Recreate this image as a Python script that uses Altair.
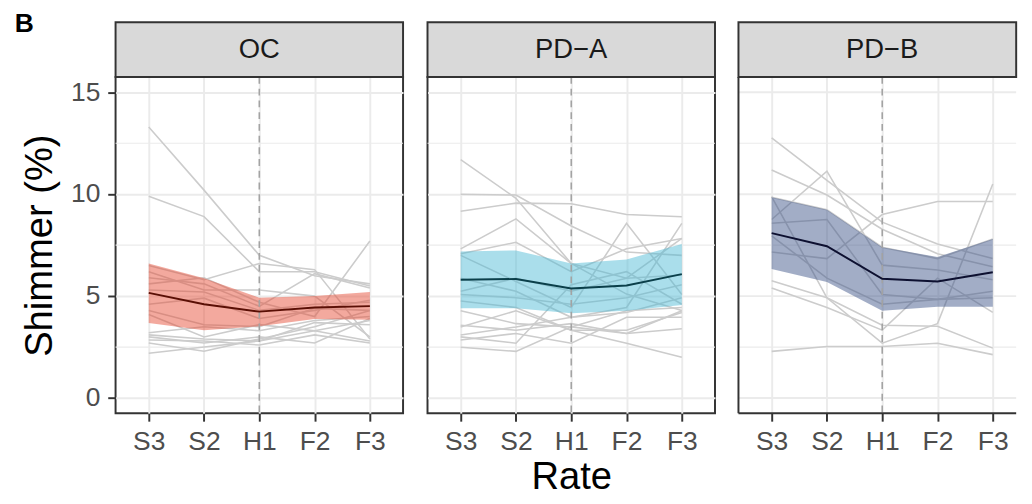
import altair as alt
import pandas as pd

FONT = "Liberation Sans"
RATES = ["S3", "S2", "H1", "F2", "F3"]
GROUPS = ["OC", "PD\u2212A", "PD\u2212B"]
FILLS = ["#E64B35", "#4DBBD5", "#3C5488"]
MEAN_COLORS = ["#5A0F05", "#0B3F4A", "#0D1030"]

OC_MEAN = [5.16, 4.60, 4.24, 4.44, 4.51]
OC_LO = [3.68, 3.33, 3.52, 3.88, 3.84]
OC_HI = [6.60, 5.88, 4.92, 5.00, 5.20]
PDA_MEAN = [5.80, 5.84, 5.37, 5.52, 6.08]
PDA_LO = [4.41, 4.41, 4.16, 4.28, 4.56]
PDA_HI = [7.19, 7.24, 6.60, 6.80, 7.56]
PDB_MEAN = [8.09, 7.45, 5.85, 5.72, 6.17]
PDB_LO = [6.33, 5.69, 4.28, 4.48, 4.48]
PDB_HI = [9.85, 9.24, 7.40, 6.92, 7.80]

OC_SUBJ = [
    [13.3, 10.2, 7.0, 6.0, 5.6],
    [9.9, 8.9, 6.2, 6.2, 5.5],
    [6.5, 5.8, 6.6, 6.3, 2.9],
    [6.2, 5.3, 5.3, 5.0, 3.0],
    [5.9, 5.6, 4.5, 6.1, 5.4],
    [5.6, 5.9, 4.7, 4.0, 7.7],
    [5.3, 5.2, 4.3, 4.6, 4.7],
    [4.6, 4.9, 3.9, 4.3, 4.8],
    [4.3, 3.6, 3.5, 4.4, 4.3],
    [4.1, 3.0, 3.6, 3.3, 3.8],
    [3.2, 3.5, 3.3, 3.8, 4.0],
    [3.1, 2.9, 2.8, 3.3, 2.8],
    [3.0, 2.7, 3.0, 2.7, 3.9],
    [2.85, 2.8, 2.6, 3.1, 2.7],
    [2.7, 2.3, 2.9, 3.5, 4.3],
    [2.2, 2.5, 2.8, 3.7, 3.6],
]
PDA_SUBJ = [
    [11.7, 9.8, 6.6, 5.1, 4.3],
    [10.0, 9.96, 8.44, 7.16, 7.0],
    [9.16, 9.56, 9.53, 9.0, 8.89],
    [7.32, 8.79, 6.6, 5.88, 7.83],
    [7.08, 7.64, 6.2, 7.32, 7.83],
    [7.0, 5.72, 4.44, 8.57, 5.08],
    [5.88, 5.24, 3.96, 4.44, 8.57],
    [5.24, 5.88, 5.24, 5.88, 6.04],
    [5.08, 4.92, 4.6, 4.92, 5.56],
    [4.76, 4.44, 3.33, 2.69, 2.0],
    [4.28, 3.65, 3.49, 4.28, 4.44],
    [3.57, 3.33, 3.65, 3.17, 4.28],
    [3.49, 4.28, 3.33, 3.33, 4.2],
    [3.09, 3.49, 3.96, 4.2, 4.92],
    [2.85, 3.17, 2.69, 3.96, 3.96],
    [2.49, 2.29, 3.49, 3.17, 3.4],
    [3.0, 2.69, 5.56, 6.2, 4.6],
]
PDB_SUBJ = [
    [12.76, 10.68, 8.63, 7.56, 6.84],
    [11.19, 9.96, 8.28, 7.08, 6.44],
    [8.76, 11.13, 6.52, 6.28, 5.8],
    [9.85, 9.24, 7.4, 6.84, 7.8],
    [8.57, 8.76, 5.08, 4.84, 5.24],
    [7.16, 6.84, 9.0, 9.64, 9.64],
    [9.88, 4.92, 2.69, 3.65, 10.5],
    [5.76, 4.92, 3.57, 3.52, 2.45],
    [5.4, 4.44, 3.33, 5.88, 4.2],
    [2.29, 2.53, 2.53, 2.69, 2.13],
    [7.96, 5.88, 4.6, 4.84, 4.92],
]

Y_TICKS = [0, 5, 10, 15]
Y_MINOR = [2.5, 7.5, 12.5]
Y_DOMAIN = [-0.75, 15.75]

W = 294          # full panel width (scale range)
W_LAST = 280     # visible width of the last (cropped) panel
H = 344
STRIP_H = 56

SUMMARIES = [
    (OC_MEAN, OC_LO, OC_HI, OC_SUBJ),
    (PDA_MEAN, PDA_LO, PDA_HI, PDA_SUBJ),
    (PDB_MEAN, PDB_LO, PDB_HI, PDB_SUBJ),
]


def make_panel(i):
    mean, lo, hi, subj = SUMMARIES[i]
    name = GROUPS[i]
    last = i == 2
    pw = W_LAST if last else W
    rows = []
    for k, vals in enumerate(subj):
        for r, v in zip(RATES, vals):
            rows.append({"subject": k, "Rate": r, "value": v})
    lines_df = pd.DataFrame(rows)
    summ_df = pd.DataFrame({"Rate": RATES, "mean": mean, "lo": lo, "hi": hi})
    minor_df = pd.DataFrame({"y": Y_MINOR})
    major_df = pd.DataFrame({"y": Y_TICKS})
    h1_df = pd.DataFrame({"Rate": ["H1"]})
    strip_df = pd.DataFrame({"g": [name]})

    xscale = alt.Scale(type="point", domain=RATES, padding=0.6, range=[0, W])
    yscale = alt.Scale(domain=Y_DOMAIN, nice=False, zero=False)

    xaxis = alt.Axis(
        title="Rate" if i == 1 else None,
        grid=True, gridColor="#EBEBEB", gridWidth=2,
        domain=False, ticks=True, tickColor="#333333", tickWidth=2, tickSize=8,
        labelFont=FONT, labelFontSize=27, labelColor="#4D4D4D", labelPadding=8,
        labelAngle=0,
        titleFont=FONT, titleFontSize=39, titleFontWeight="normal",
        titleColor="#000000", titlePadding=4,
    )
    if i == 0:
        yaxis = alt.Axis(
            title="Shimmer (%)", values=Y_TICKS,
            grid=True, gridColor="#EBEBEB", gridWidth=2,
            domain=False, tickColor="#333333", tickWidth=2, tickSize=8,
            labelFont=FONT, labelFontSize=27, labelColor="#4D4D4D", labelPadding=8,
            titleFont=FONT, titleFontSize=39, titleFontWeight="normal",
            titleColor="#000000", titlePadding=11,
        )
    else:
        yaxis = alt.Axis(
            title=None, values=Y_TICKS, labels=False, ticks=False, domain=False,
            grid=not last, gridColor="#EBEBEB", gridWidth=2,
        )

    x_enc = alt.X("Rate:N", scale=xscale, sort=RATES, axis=xaxis)
    strip_right = pw + 4 if last else pw

    if last:
        minor = alt.Chart(minor_df).mark_rule(color="#EBEBEB", strokeWidth=1.2).encode(
            y=alt.Y("y:Q", scale=yscale, axis=yaxis),
            x=alt.value(0), x2=alt.value(strip_right),
        )
        major = alt.Chart(major_df).mark_rule(color="#EBEBEB", strokeWidth=2).encode(
            y=alt.Y("y:Q", scale=yscale, axis=yaxis),
            x=alt.value(0), x2=alt.value(strip_right),
        )
        grid_layers = [minor, major]
    else:
        minor = alt.Chart(minor_df).mark_rule(color="#EBEBEB", strokeWidth=1.2).encode(
            y=alt.Y("y:Q", scale=yscale, axis=yaxis)
        )
        grid_layers = [minor]

    gray = alt.Chart(lines_df).mark_line(color="#CCCCCC", strokeWidth=1.6).encode(
        x=x_enc,
        y=alt.Y("value:Q", scale=yscale, axis=yaxis),
        detail="subject:N",
    )
    ribbon = alt.Chart(summ_df).mark_area(color=FILLS[i], opacity=0.48).encode(
        x=x_enc,
        y=alt.Y("lo:Q", scale=yscale, axis=yaxis),
        y2="hi:Q",
    )
    vline = alt.Chart(h1_df).mark_rule(
        color="#A3A3A3", strokeDash=[7, 5], strokeWidth=1.6
    ).encode(x=x_enc)
    mline = alt.Chart(summ_df).mark_line(color=MEAN_COLORS[i], strokeWidth=2).encode(
        x=x_enc,
        y=alt.Y("mean:Q", scale=yscale, axis=yaxis),
    )
    strip = alt.Chart(strip_df).mark_rect(
        fill="#D9D9D9", stroke="#333333", strokeWidth=2
    ).encode(
        x=alt.value(0), x2=alt.value(strip_right),
        y=alt.value(-STRIP_H), y2=alt.value(0),
    )
    strip_text = alt.Chart(strip_df).mark_text(
        font=FONT, fontSize=28, color="#1A1A1A", baseline="middle", align="center"
    ).encode(
        x=alt.value(W / 2), y=alt.value(-STRIP_H / 2 + 1), text="g:N"
    )
    layers = grid_layers + [gray, ribbon, vline, mline, strip, strip_text]
    if last:
        left_border = alt.Chart(strip_df).mark_rule(
            color="#333333", strokeWidth=2
        ).encode(x=alt.value(0), y=alt.value(0), y2=alt.value(H))
        bottom_border = alt.Chart(strip_df).mark_rule(
            color="#333333", strokeWidth=2
        ).encode(x=alt.value(0), x2=alt.value(strip_right), y=alt.value(H))
        layers += [left_border, bottom_border]
        return alt.layer(*layers).properties(
            width=pw, height=H, view=alt.ViewBackground(strokeOpacity=0)
        )
    return alt.layer(*layers).properties(width=pw, height=H)


chart = alt.hconcat(
    make_panel(0), make_panel(1), make_panel(2), spacing=21
).properties(
    title=alt.TitleParams(
        "B", anchor="start", font=FONT, fontSize=27, fontWeight="bold",
        color="#000000", offset=-18, dx=-6, baseline="top",
    ),
    padding={"left": 6, "top": -3, "right": -2, "bottom": -7},
).configure(
    background="#FFFFFF",
    view=alt.ViewConfig(stroke="#333333", strokeWidth=2),
)

chart.save("out.html", embed_options={"renderer": "svg", "actions": False})
